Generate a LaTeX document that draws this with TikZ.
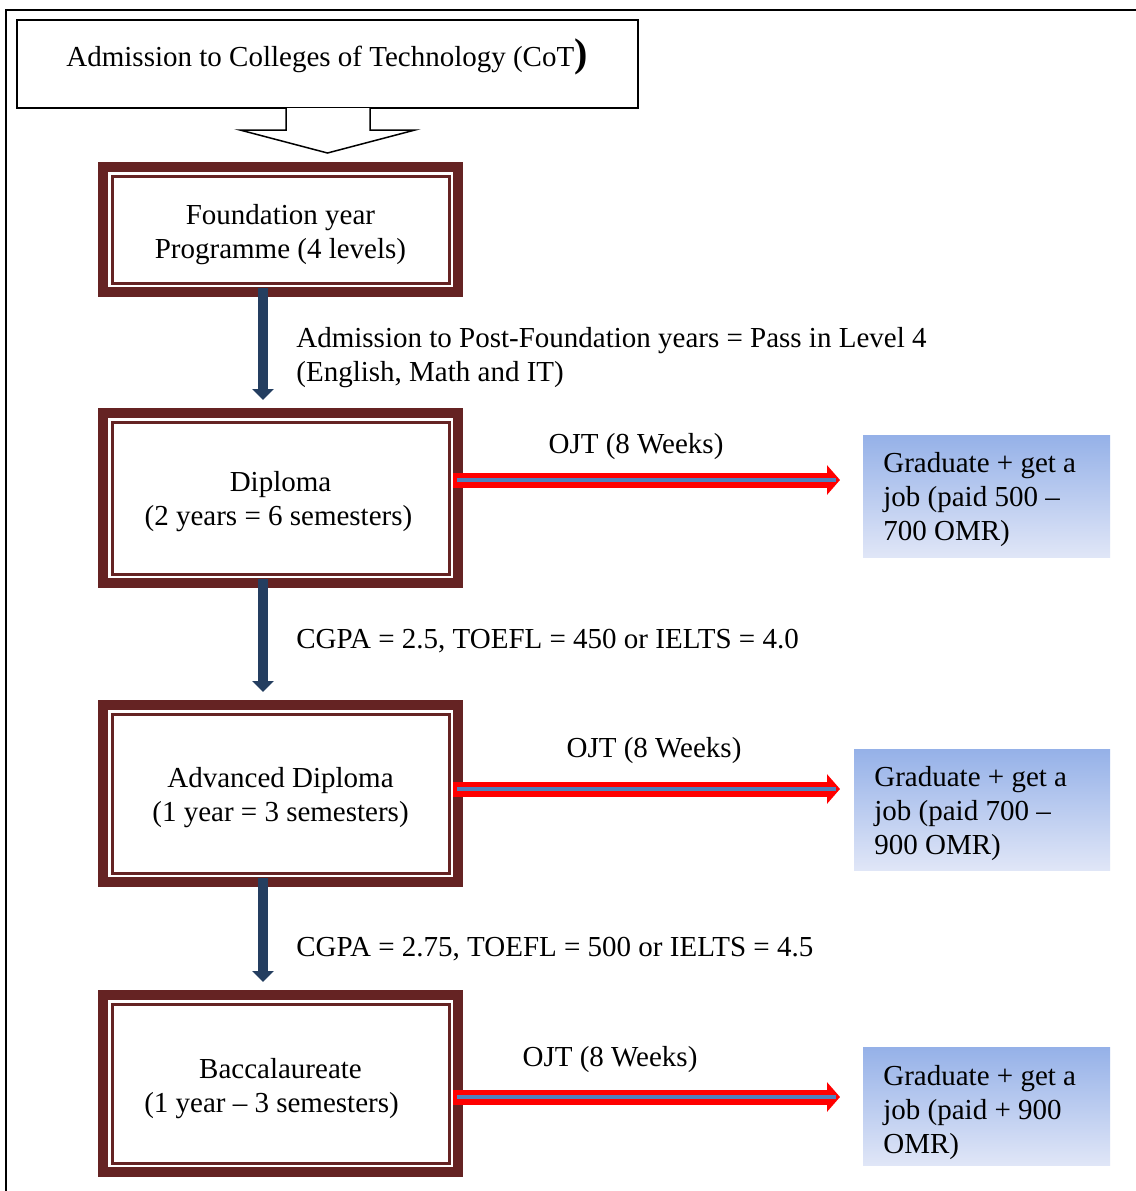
\documentclass[tikz,border=0pt]{standalone}
\usepackage{fontspec}
\setmainfont{Liberation Serif}
\usetikzlibrary{arrows.meta,calc}
\definecolor{frameBrown}{RGB}{101,35,35}
\definecolor{stepNavy}{RGB}{36,62,96}
\definecolor{ojtRed}{RGB}{255,0,0}
\definecolor{ojtBlue}{RGB}{79,129,189}
\definecolor{gradTop}{RGB}{149,177,232}
\definecolor{gradBottom}{RGB}{224,230,247}

\begin{document}
\begin{tikzpicture}[x=0.5pt,y=-0.5pt,
  font=\fontsize{14.5}{17}\selectfont,
  stagebox/.style={draw=frameBrown, line width=5pt, outer sep=0pt,
    minimum width=177.5pt, inner sep=0pt},
  txt/.style={inner sep=0pt, align=left},
  gradbox/.style={top color=gradTop, bottom color=gradBottom, draw=none,
    inner sep=0pt, outer sep=0pt},
  gradtext/.style={inner sep=0pt, align=flush left, anchor=west},
  stepArrow/.style={stepNavy, line width=4.7pt,
    -{Triangle[width=10.5pt,length=5.5pt]}},
  ojtOutline/.style={ojtRed, line width=7.5pt,
    -{Triangle[width=14.5pt,length=6.5pt]}},
  ojtCore/.style={ojtBlue, line width=2pt, shorten <=2pt, shorten >=13.5pt}]

\fill[white] (0,0) rectangle (1136,1191);
\useasboundingbox (0,0) rectangle (1136,1191);

% page frame (top and left rules)
\draw[line width=1pt] (6,1191) -- (6,10) -- (1136,10);

% admission box and its hollow arrow
\node[draw, line width=1pt, minimum width=310.5pt, minimum height=44pt,
  inner sep=0pt, outer sep=0pt] (cot) at (327.5,64) {};
\node[txt, anchor=base] (cottext) at (327,66)
  {Admission to Colleges of Technology (CoT{\fontsize{20}{20}\selectfont\bfseries )}};
\filldraw[fill=white, line width=0.75pt, line join=miter]
  ($(cot.south)+(-20.75pt,0)$) -- ++(0,-11pt) -- ++(-23pt,0)
  -- ($(cot.south)+(0,-22.5pt)$) -- ($(cot.south)+(43.75pt,-11pt)$)
  -- ++(-22.5pt,0) -- ($(cot.south)+(21.25pt,0)$);

% programme stages: thick-thin double frames
\node[stagebox, minimum height=62.5pt] (found) at (280.5,229.5) {};
\node[stagebox, minimum height=85pt] (dipl) at (280.5,498) {};
\node[stagebox, minimum height=88.5pt] (adv) at (280.5,793.5) {};
\node[stagebox, minimum height=88.5pt] (bacc) at (280.5,1083.5) {};
\foreach \n in {found,dipl,adv,bacc}
  \draw[frameBrown, line width=1.5pt]
    ([shift={(4.5pt,-4.5pt)}]\n.north west) rectangle
    ([shift={(-4.5pt,4.5pt)}]\n.south east);

\node[txt, align=center] (foundtext) at ($(found)+(0,5)$)
  {Foundation year\\Programme (4 levels)};
\node[txt, align=center] (dipltext) at ($(dipl)+(0,4)$)
  {Diploma\\(2 years = 6 semesters)\hspace*{2pt}};
\node[txt, align=center] (advtext) at ($(adv)+(0,4)$)
  {Advanced Diploma\\(1 year = 3 semesters)};
\node[txt, align=center] (bacctext) at ($(bacc)+(0,5)$)
  {Baccalaureate\\(1 year -- 3 semesters)\hspace*{9pt}};

% progression arrows and entry conditions
\draw[stepArrow] ([xshift=-8.75pt,yshift=2pt]found.south) -- ([xshift=-8.75pt,yshift=6.5pt]dipl.north);
\draw[stepArrow] ([xshift=-8.75pt,yshift=2pt]dipl.south) -- ([xshift=-8.75pt,yshift=6.5pt]adv.north);
\draw[stepArrow] ([xshift=-8.75pt,yshift=2pt]adv.south) -- ([xshift=-8.75pt,yshift=6.5pt]bacc.north);

\node[txt, anchor=west] (cond1) at (296,358)
  {Admission to Post-Foundation years = Pass in Level 4\\(English, Math and IT)};
\node[txt, anchor=west] (cond2) at (296,641)
  {CGPA = 2.5, TOEFL = 450 or IELTS = 4.0};
\node[txt, anchor=west] (cond3) at (296,949)
  {CGPA = 2.75, TOEFL = 500 or IELTS = 4.5};

% graduate outcomes
\node[gradbox, minimum width=123.5pt, minimum height=61pt] (grad1) at (986.5,496) {};
\node[gradbox, minimum width=128pt, minimum height=60.5pt] (grad2) at (982,809.5) {};
\node[gradbox, minimum width=123.5pt, minimum height=59pt] (grad3) at (986.5,1106) {};
\node[gradtext] (grad1text) at ($(grad1.west)+(20,3.5)$)
  {Graduate + get a\\job (paid 500 --\\700 OMR)};
\node[gradtext] (grad2text) at ($(grad2.west)+(20,4)$)
  {Graduate + get a\\job (paid 700 --\\900 OMR)};
\node[gradtext] (grad3text) at ($(grad3.west)+(20,6.5)$)
  {Graduate + get a\\job (paid + 900\\OMR)};

% on-the-job training arrows
\coordinate (o1) at ([xshift=-2.5pt,yshift=9pt]dipl.east);
\coordinate (o2) at ([xshift=-2.5pt,yshift=2.25pt]adv.east);
\coordinate (o3) at ([xshift=-2.5pt,yshift=-6.75pt]bacc.east);
\draw[ojtOutline, shorten >=11.5pt] (o1) -- (o1 -| grad1.west);
\draw[ojtCore] (o1) -- (o1 -| grad1.west);
\draw[ojtOutline, shorten >=7pt] (o2) -- (o2 -| grad2.west);
\draw[ojtCore, shorten >=9pt] (o2) -- (o2 -| grad2.west);
\draw[ojtOutline, shorten >=11.5pt] (o3) -- (o3 -| grad3.west);
\draw[ojtCore] (o3) -- (o3 -| grad3.west);

\node[txt] (ojt1) at (636,447) {OJT (8 Weeks)};
\node[txt] (ojt2) at (654,751) {OJT (8 Weeks)};
\node[txt] (ojt3) at (610,1060) {OJT (8 Weeks)};
\end{tikzpicture}
\end{document}
